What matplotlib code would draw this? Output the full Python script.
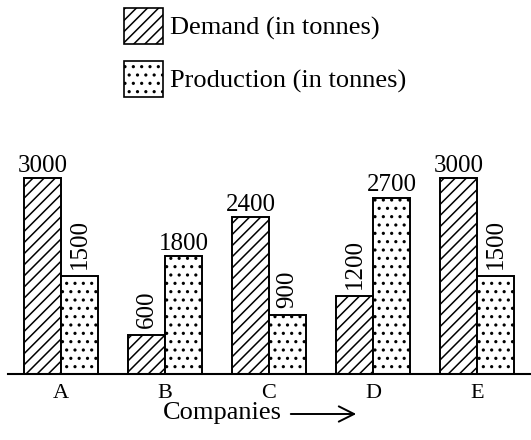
import matplotlib

matplotlib.use("Agg")
import matplotlib.pyplot as plt
from matplotlib.patches import Patch

companies = ["A", "B", "C", "D", "E"]
demand = [3000, 600, 2400, 1200, 3000]
production = [1500, 1800, 900, 2700, 1500]
series_names = ["Demand (in tonnes)", "Production (in tonnes)"]

plt.rcParams["font.family"] = ["Liberation Serif", "DejaVu Serif"]
plt.rcParams["hatch.linewidth"] = 1.1

fig = plt.figure(figsize=(5.31, 4.40), dpi=100)
ax = fig.add_axes([8 / 531, 1 - 374 / 440, 523 / 531, 235.2 / 440])

w = 0.356
x = list(range(len(companies)))
xd = [i - w / 2 for i in x]
xp = [i + w / 2 for i in x]
ax.bar(xd, demand, width=w, facecolor="white", edgecolor="black",
       linewidth=1.4, hatch="///")
ax.bar(xp, production, width=w, facecolor="white", edgecolor="black",
       linewidth=1.4, hatch="..")

# higher bar of a pair gets a flat label, the lower one a rotated label
for i in x:
    for xpos, val, other in ((xd[i], demand[i], production[i]),
                             (xp[i], production[i], demand[i])):
        if val >= other:
            ax.annotate(str(val), (xpos, val), xytext=(0, 1), textcoords="offset points",
                        ha="center", va="bottom", fontsize=18)
        else:
            ax.annotate(str(val), (xpos, val), xytext=(0, 5), textcoords="offset points",
                        ha="center", va="bottom", rotation=90, fontsize=18)

ax.set_xlim(-0.51, 4.52)
ax.set_ylim(0, 3600)
ax.set_xticks(x)
ax.set_xticklabels(companies, fontsize=16)
ax.tick_params(axis="x", length=0, pad=7)
ax.set_yticks([])
for s in ("left", "right", "top"):
    ax.spines[s].set_visible(False)
ax.spines["bottom"].set_linewidth(1.5)

fig.text(282 / 531, 1 - 413 / 440, "Companies", ha="right", va="center", fontsize=19)
ax.annotate("", xy=(359 / 531, 1 - 414 / 440), xytext=(288 / 531, 1 - 414 / 440),
            xycoords="figure fraction",
            arrowprops=dict(arrowstyle="->,head_length=1.1,head_width=0.55", lw=1.4, color="black"))

handles = [Patch(facecolor="white", edgecolor="black", hatch="///", linewidth=1.2),
           Patch(facecolor="white", edgecolor="black", hatch="..", linewidth=1.2)]
fig.legend(handles, series_names, loc="upper left", bbox_to_anchor=(124 / 531, 1 - 8 / 440),
           frameon=False, fontsize=19, handlelength=1.48, handleheight=1.72,
           handletextpad=0.27, labelspacing=0.64, borderpad=0, borderaxespad=0)

fig.savefig("out.png", dpi=100)
